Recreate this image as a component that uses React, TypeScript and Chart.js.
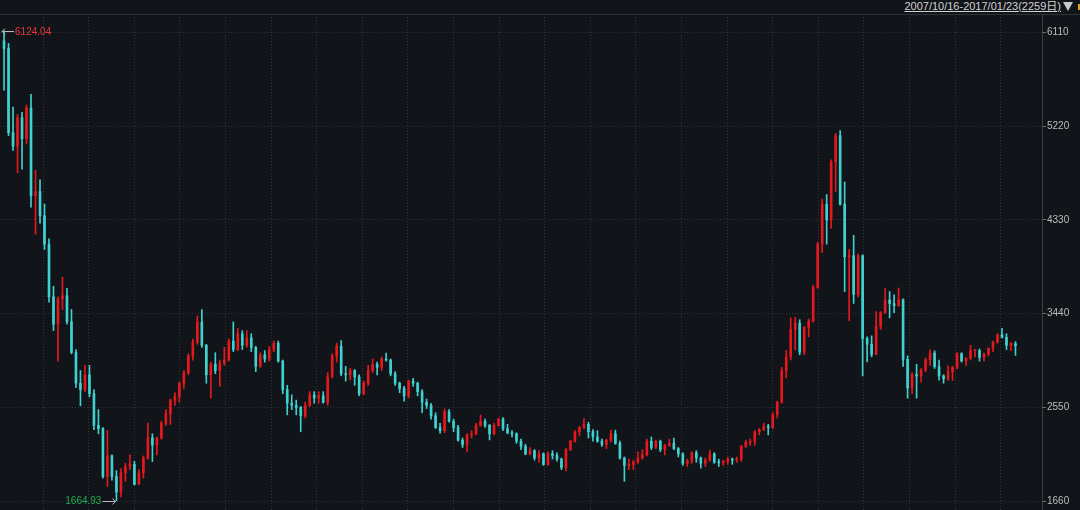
import React, { useEffect, useRef } from "react";
import { Chart, registerables } from "chart.js";

Chart.register(...registerables);

// Each candle summarises 10 trading days of the index (2007/10/16 - 2017/01/23, 2259 days)
const DAYS_PER_CANDLE = 10;

const OPEN = [
  6030, 5956, 5158, 5030, 5300, 5100, 5393, 4559, 4599, 4370,
  4100, 3600, 3340, 3583, 3610, 3364, 3072, 2780, 2720, 2860,
  2680, 2380, 2350, 1895, 2093, 1895, 1747, 1930, 1990, 2010,
  1821, 1930, 2070, 2261, 2192, 2260, 2400, 2490, 2620, 2650,
  2780, 2880, 3040, 3170, 3360, 3140, 2860, 2960, 2900, 2970,
  3000, 3180, 3100, 3250, 3140, 3210, 3120, 2940, 3050, 3010,
  3100, 3160, 2990, 2720, 2590, 2570, 2550, 2470, 2570, 2670,
  2640, 2660, 2600, 2840, 3040, 3130, 2870, 2860, 2900, 2840,
  2680, 2780, 2900, 2960, 2930, 3010, 3000, 2870, 2780, 2730,
  2660, 2800, 2780, 2700, 2600, 2570, 2470, 2360, 2330, 2510,
  2420, 2360, 2240, 2199, 2290, 2300, 2380, 2420, 2380, 2300,
  2380, 2440, 2350, 2310, 2300, 2230, 2180, 2110, 2140, 2070,
  2110, 2010, 2110, 2095, 2060, 1980, 2150, 2230, 2320, 2360,
  2390, 2320, 2270, 2230, 2200, 2240, 2300, 2210, 2070, 2000,
  2010, 2030, 2070, 2100, 2230, 2170, 2230, 2150, 2190, 2210,
  2160, 2110, 2020, 2040, 2120, 2070, 2020, 2050, 2110, 2030,
  2025, 2040, 2060, 2050, 2060, 2180, 2220, 2230, 2320, 2340,
  2370, 2360, 2480, 2600, 2900, 3030, 3290, 3350, 3075, 3310,
  3370, 3690, 4100, 4480, 4330, 4880, 5130, 4480, 3980, 3990,
  3622, 3990, 3205, 3150, 3053, 3320, 3450, 3570, 3536, 3516,
  3572, 3007, 2735, 2862, 2849, 2905, 3003, 3066, 2938, 2850,
  2822, 2887, 2931, 3060, 2992, 3018, 3089, 3090, 3025, 3058,
  3112, 3171, 3241, 3215, 3140, 3155,
];

const HIGH = [
  6124.04, 6005, 5400, 5330, 5350, 5420, 5522, 4800, 4710, 4480,
  4150, 3700, 3600, 3786, 3680, 3480, 3100, 2900, 2950, 2950,
  2720, 2530, 2360, 2333, 2100, 1950, 1970, 2020, 2100, 2040,
  1960, 2090, 2402, 2300, 2270, 2420, 2530, 2630, 2690, 2790,
  2900, 3060, 3200, 3420, 3478, 3150, 2980, 3070, 3000, 3120,
  3200, 3361, 3300, 3280, 3280, 3250, 3130, 3070, 3090, 3130,
  3181, 3181, 3000, 2760, 2670, 2620, 2560, 2600, 2700, 2700,
  2700, 2700, 2880, 3060, 3160, 3186, 2940, 2920, 2910, 2860,
  2800, 2950, 3010, 2980, 3030, 3067, 3010, 2890, 2790, 2750,
  2810, 2826, 2790, 2720, 2630, 2590, 2500, 2400, 2536, 2530,
  2440, 2380, 2260, 2300, 2330, 2400, 2478, 2440, 2390, 2400,
  2450, 2453, 2390, 2330, 2310, 2250, 2200, 2170, 2150, 2140,
  2120, 2130, 2140, 2120, 2070, 2160, 2240, 2330, 2370, 2444,
  2410, 2340, 2330, 2250, 2250, 2335, 2335, 2230, 2080, 2060,
  2050, 2130, 2150, 2250, 2270, 2240, 2240, 2200, 2250, 2260,
  2170, 2120, 2060, 2130, 2140, 2080, 2070, 2146, 2120, 2060,
  2050, 2080, 2070, 2080, 2190, 2240, 2250, 2330, 2350, 2400,
  2390, 2500, 2610, 2930, 3090, 3400, 3406, 3383, 3320, 3390,
  3710, 4120, 4530, 4570, 4900, 5150, 5178, 4690, 4050, 4184,
  4006, 4000, 3220, 3230, 3460, 3460, 3678, 3650, 3620, 3684,
  3580, 3040, 2880, 2960, 2920, 3020, 3097, 3088, 3000, 2860,
  2945, 2940, 3070, 3070, 3020, 3140, 3100, 3105, 3065, 3115,
  3180, 3250, 3301, 3250, 3168, 3175,
];

const LOW = [
  5560, 5130, 4990, 4778, 4812, 5050, 4450, 4195, 4300, 4050,
  3550, 3280, 2990, 3480, 3340, 3060, 2740, 2566, 2700, 2650,
  2340, 2300, 1880, 1802, 1860, 1664.93, 1700, 1850, 1960, 1814,
  1820, 1880, 2060, 2037, 2100, 2250, 2380, 2390, 2570, 2600,
  2730, 2860, 3000, 3150, 3120, 2780, 2639, 2870, 2750, 2950,
  2990, 3080, 3090, 3100, 3120, 3080, 2890, 2930, 2980, 2990,
  3080, 2980, 2680, 2480, 2530, 2480, 2319, 2450, 2560, 2590,
  2590, 2590, 2570, 2830, 2980, 2850, 2800, 2810, 2760, 2661,
  2670, 2760, 2880, 2860, 2900, 2990, 2850, 2760, 2690, 2610,
  2640, 2750, 2660, 2500, 2540, 2440, 2350, 2307, 2310, 2410,
  2320, 2230, 2170, 2132, 2260, 2290, 2370, 2360, 2242, 2290,
  2370, 2330, 2300, 2270, 2210, 2150, 2100, 2100, 2050, 2029,
  2000, 2000, 2060, 2040, 1960, 1949, 2140, 2220, 2280, 2350,
  2260, 2230, 2220, 2180, 2160, 2220, 2200, 2060, 1849, 1960,
  1960, 2020, 2060, 2090, 2150, 2160, 2130, 2100, 2180, 2150,
  2080, 2000, 1990, 2020, 2030, 1974, 1990, 2040, 2020, 1990,
  2000, 2010, 2010, 2030, 2040, 2170, 2190, 2190, 2290, 2330,
  2290, 2350, 2450, 2590, 2830, 3000, 3095, 3050, 3050, 3220,
  3360, 3680, 4020, 4100, 4250, 4600, 4470, 3650, 3373, 3537,
  3600, 2850, 2983, 3030, 3050, 3290, 3440, 3400, 3450, 3510,
  2940, 2638, 2680, 2638, 2790, 2890, 2950, 2920, 2810, 2780,
  2807, 2807, 2915, 2980, 2950, 3000, 3030, 2990, 2990, 3040,
  3080, 3160, 3210, 3100, 3090, 3044,
];

const CLOSE = [
  5956, 5158, 5030, 5300, 5100, 5393, 4559, 4599, 4370, 4100,
  3600, 3340, 3583, 3610, 3364, 3072, 2780, 2720, 2860, 2680,
  2380, 2350, 1895, 2093, 1895, 1747, 1930, 1990, 2010, 1821,
  1930, 2070, 2261, 2192, 2260, 2400, 2490, 2620, 2650, 2780,
  2880, 3040, 3170, 3360, 3140, 2860, 2960, 2900, 2970, 3000,
  3180, 3100, 3250, 3140, 3210, 3120, 2940, 3050, 3010, 3100,
  3160, 2990, 2720, 2590, 2570, 2550, 2470, 2570, 2670, 2640,
  2660, 2600, 2840, 3040, 3130, 2870, 2860, 2900, 2840, 2680,
  2780, 2900, 2960, 2930, 3010, 3000, 2870, 2780, 2730, 2660,
  2800, 2780, 2700, 2600, 2570, 2470, 2360, 2330, 2510, 2420,
  2360, 2240, 2199, 2290, 2300, 2380, 2420, 2380, 2300, 2380,
  2440, 2350, 2310, 2300, 2230, 2180, 2110, 2140, 2070, 2110,
  2010, 2110, 2095, 2060, 1980, 2150, 2230, 2320, 2360, 2390,
  2320, 2270, 2230, 2200, 2240, 2300, 2210, 2070, 2000, 2010,
  2030, 2070, 2100, 2230, 2170, 2230, 2150, 2190, 2210, 2160,
  2110, 2020, 2040, 2120, 2070, 2020, 2050, 2110, 2030, 2025,
  2040, 2060, 2050, 2060, 2180, 2220, 2230, 2320, 2340, 2370,
  2360, 2480, 2600, 2900, 3030, 3290, 3350, 3075, 3310, 3370,
  3690, 4100, 4480, 4330, 4880, 5130, 4480, 3980, 3990, 3622,
  3990, 3205, 3150, 3053, 3320, 3450, 3570, 3536, 3516, 3572,
  3007, 2735, 2862, 2849, 2905, 3003, 3066, 2938, 2850, 2822,
  2887, 2931, 3060, 2992, 3018, 3089, 3090, 3025, 3058, 3112,
  3171, 3241, 3215, 3140, 3155, 3136,
];

const Y_TICKS = [1660, 2550, 3440, 4330, 5220, 6110];
const Y_MIN = 1577;
const Y_MAX = 6284;
const X_MIN_DAY = -4.5;
const X_MAX_DAY = 2313.5;
const X_GRID_FIRST_DAY = 91.2;
const X_GRID_STEP_DAYS = 101.45;
const X_GRID_COUNT = 22;

const HEADER_TEXT = "2007/10/16-2017/01/23(2259日)";

const BG = "#111418";
const UP = "#e3191d";
const DOWN = "#3fd0d0";
const GRID = "#30343a";
const FONT = '"Liberation Sans", Arial, "Noto Sans CJK SC", sans-serif';

const dayOf = (i: number) => i * DAYS_PER_CANDLE + 4.5;

const extremesPlugin = {
  id: "extremes",
  afterDatasetsDraw(chart: any) {
    const { ctx, scales } = chart;
    const xs = scales.x;
    const ys = scales.y;
    let hi = 0;
    let lo = 0;
    HIGH.forEach((h, i) => {
      if (h > HIGH[hi]) hi = i;
    });
    LOW.forEach((l, i) => {
      if (l < LOW[lo]) lo = i;
    });
    ctx.save();
    ctx.font = `10px ${FONT}`;
    ctx.textBaseline = "middle";
    ctx.lineWidth = 1;

    const arrow = (fromX: number, toX: number, yy: number) => {
      const y0 = Math.round(yy) + 0.5;
      ctx.strokeStyle = "#b9b9b9";
      ctx.beginPath();
      ctx.moveTo(fromX, y0);
      ctx.lineTo(toX, y0);
      const dir = toX > fromX ? 1 : -1;
      ctx.moveTo(toX - dir * 3, y0 - 3);
      ctx.lineTo(toX, y0);
      ctx.lineTo(toX - dir * 3, y0 + 3);
      ctx.stroke();
    };

    const hx = xs.getPixelForValue(dayOf(hi));
    const hy = ys.getPixelForValue(HIGH[hi]);
    arrow(hx + 10, hx - 2, hy);
    ctx.fillStyle = "#e8383b";
    ctx.textAlign = "left";
    ctx.fillText(HIGH[hi].toFixed(2), hx + 11, hy + 1);

    const lx = xs.getPixelForValue(dayOf(lo));
    const ly = ys.getPixelForValue(LOW[lo]);
    arrow(lx - 14, lx - 1, ly);
    ctx.fillStyle = "#1fae4f";
    ctx.textAlign = "right";
    ctx.fillText(LOW[lo].toFixed(2), lx - 15, ly + 1);
    ctx.restore();
  },
};

export default function App() {
  const canvasRef = useRef<HTMLCanvasElement | null>(null);

  useEffect(() => {
    const canvas = canvasRef.current;
    if (!canvas) return;
    const colors = CLOSE.map((c, i) => (c >= OPEN[i] ? UP : DOWN));
    const wickData = OPEN.map((_, i) => ({ x: dayOf(i), y: [LOW[i], HIGH[i]] }));
    const bodyData = OPEN.map((o, i) => ({ x: dayOf(i), y: [o, CLOSE[i]] }));

    const chart = new Chart(canvas, {
      type: "bar",
      data: {
        datasets: [
          {
            data: wickData as any,
            backgroundColor: colors,
            borderWidth: 0,
            barThickness: 1,
            grouped: false,
            order: 2,
          } as any,
          {
            data: bodyData as any,
            backgroundColor: colors,
            borderWidth: 0,
            barThickness: 2,
            minBarLength: 1,
            grouped: false,
            order: 1,
          } as any,
        ],
      },
      options: {
        responsive: false,
        animation: false,
        devicePixelRatio: 1,
        layout: { padding: { top: 14, left: 0, right: 0, bottom: 0 } },
        plugins: {
          legend: { display: false },
          tooltip: { enabled: false },
        },
        events: [],
        scales: {
          x: {
            type: "linear",
            min: X_MIN_DAY,
            max: X_MAX_DAY,
            offset: false,
            afterBuildTicks: (s: any) => {
              const t = [];
              for (let k = 0; k < X_GRID_COUNT; k++) t.push({ value: X_GRID_FIRST_DAY + k * X_GRID_STEP_DAYS });
              s.ticks = t;
            },
            afterFit: (s: any) => {
              s.height = 0;
              s.paddingLeft = 0;
              s.paddingRight = 0;
            },
            ticks: { display: false },
            grid: { color: GRID, drawTicks: false, offset: false, lineWidth: 1 },
            border: { display: false, dash: [1, 2] },
          } as any,
          y: {
            type: "linear",
            position: "right",
            min: Y_MIN,
            max: Y_MAX,
            afterBuildTicks: (s: any) => {
              s.ticks = Y_TICKS.map((v) => ({ value: v }));
            },
            afterFit: (s: any) => {
              s.width = 38;
              s.paddingTop = 0;
              s.paddingBottom = 0;
            },
            ticks: {
              color: "#bcbcbc",
              font: { family: FONT, size: 10 },
              padding: 1,
              autoSkip: false,
              callback: (v: any) => String(v),
            },
            grid: { color: GRID, drawTicks: true, tickLength: 4, tickColor: "#6c7076", lineWidth: 1 },
            border: { display: true, color: "#3d4046", width: 1, dash: [1, 2] },
          } as any,
        },
      },
      plugins: [extremesPlugin],
    });
    return () => chart.destroy();
  }, []);

  return (
    <div
      style={{
        position: "fixed",
        left: 0,
        top: 0,
        width: 1080,
        height: 510,
        background: BG,
        overflow: "hidden",
      }}
    >
      <canvas ref={canvasRef} width={1080} height={510} style={{ display: "block", position: "absolute", left: 0, top: 0 }} />
      <div
        style={{
          position: "absolute",
          left: 0,
          top: 0,
          width: 1080,
          height: 14,
          background: BG,
          borderBottom: "1px solid #2f3237",
        }}
      >
        <span
          style={{
            position: "absolute",
            right: 19,
            top: 0,
            fontFamily: FONT,
            fontSize: 11,
            lineHeight: "12px",
            color: "#d2d2d2",
            textDecoration: "underline",
            whiteSpace: "nowrap",
          }}
        >
          {HEADER_TEXT}
        </span>
        <div
          style={{
            position: "absolute",
            left: 1063,
            top: 2,
            width: 0,
            height: 0,
            borderLeft: "5px solid transparent",
            borderRight: "5px solid transparent",
            borderTop: "9px solid #c8c8c8",
          }}
        />
        <div
          style={{
            position: "absolute",
            left: 1078,
            top: 4,
            width: 2,
            height: 6,
            background: "#d9a21c",
          }}
        />
      </div>
    </div>
  );
}
